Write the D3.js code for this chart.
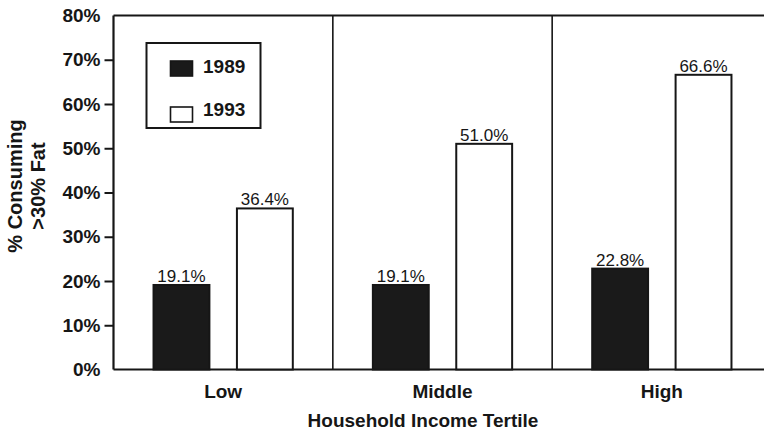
<!DOCTYPE html>
<html>
<head>
<meta charset="utf-8">
<script src="https://cdn.jsdelivr.net/npm/d3@7/dist/d3.min.js"></script>
<style>
  html, body { margin: 0; padding: 0; background: #fff; }
  svg { display: block; }
  text { font-family: "Liberation Sans", Arial, Helvetica, sans-serif; fill: #161616; }
</style>
</head>
<body>
<svg id="chart" width="764" height="431"></svg>
<script>
// Share of people consuming >30% of energy from fat, by household income tertile
const categories = ["Low", "Middle", "High"];
const years = ["1989", "1993"];
const values1989 = [19.1, 19.1, 22.8];
const values1993 = [36.4, 51.0, 66.6];
const yTicks = [0, 10, 20, 30, 40, 50, 60, 70, 80];
const yTickLabels = ["0%", "10%", "20%", "30%", "40%", "50%", "60%", "70%", "80%"];

const ink = "#161616";
const svg = d3.select("#chart");

const plot = { left: 113.5, right: 771.5, top: 15.5, bottom: 369.5 };

const y = d3.scaleLinear().domain([0, 80]).range([plot.bottom, plot.top]);
const x0 = d3.scaleBand().domain(categories).range([plot.left, plot.right]).padding(0);
const x1 = d3.scaleBand().domain(years).range([0, x0.bandwidth()])
  .paddingInner(0.33).paddingOuter(0.48);

const rows = categories.map((c, i) => ({
  category: c,
  bars: [
    { year: "1989", value: values1989[i] },
    { year: "1993", value: values1993[i] }
  ]
}));

// Frame: top and bottom rules plus a vertical divider at each category edge
const frame = svg.append("g").attr("stroke", ink).attr("stroke-width", 2).attr("fill", "none");
frame.append("line").attr("x1", plot.left).attr("x2", plot.right).attr("y1", plot.top).attr("y2", plot.top);
frame.append("line").attr("x1", plot.left).attr("x2", plot.right).attr("y1", plot.bottom).attr("y2", plot.bottom);
categories.forEach(c => {
  frame.append("line")
    .attr("x1", x0(c)).attr("x2", x0(c))
    .attr("y1", plot.top).attr("y2", plot.bottom)
    .attr("stroke-width", x0(c) === plot.left ? 2.2 : 1.6);
});
frame.append("line").attr("x1", plot.right).attr("x2", plot.right).attr("y1", plot.top).attr("y2", plot.bottom);

// Y axis
const yAxis = d3.axisLeft(y)
  .tickValues(yTicks)
  .tickFormat((d, i) => yTickLabels[i])
  .tickSize(9)
  .tickPadding(4);
const yg = svg.append("g").attr("transform", `translate(${plot.left},0)`).call(yAxis);
yg.select(".domain").remove();
yg.selectAll(".tick line")
  .attr("stroke", ink).attr("stroke-width", 2)
  .attr("display", d => (d === 0 || d === 80) ? "none" : null);
yg.selectAll(".tick text")
  .attr("x", -13)
  .attr("font-size", 19).attr("font-weight", "bold")
  .attr("fill", ink)
  .attr("font-family", "'Liberation Sans', Arial, sans-serif");

// Bars
const groups = svg.append("g").selectAll("g.cat")
  .data(rows).join("g")
  .attr("class", "cat")
  .attr("transform", d => `translate(${x0(d.category)},0)`);

groups.selectAll("rect")
  .data(d => d.bars).join("rect")
  .attr("x", d => x1(d.year))
  .attr("width", x1.bandwidth())
  .attr("y", d => y(d.value))
  .attr("height", d => y(0) - y(d.value))
  .attr("fill", d => d.year === "1989" ? "#1a1a1a" : "#fff")
  .attr("stroke", ink)
  .attr("stroke-width", 2);

groups.selectAll("text.val")
  .data(d => d.bars).join("text")
  .attr("class", "val")
  .attr("x", d => x1(d.year) + x1.bandwidth() / 2)
  .attr("y", d => y(d.value) - 3)
  .attr("text-anchor", "middle")
  .attr("font-size", 17)
  .text(d => d.value.toFixed(1) + "%");

// Category labels
svg.append("g").selectAll("text")
  .data(categories).join("text")
  .attr("x", d => x0(d) + x0.bandwidth() / 2)
  .attr("y", 398)
  .attr("text-anchor", "middle")
  .attr("font-size", 19).attr("font-weight", "bold")
  .text(d => d);

// Axis titles
svg.append("text")
  .attr("x", 423).attr("y", 427)
  .attr("text-anchor", "middle")
  .attr("font-size", 19).attr("font-weight", "bold")
  .text("Household Income Tertile");

const yTitle = svg.append("text")
  .attr("transform", "translate(0,186) rotate(-90)")
  .attr("text-anchor", "middle")
  .attr("font-size", 20).attr("font-weight", "bold");
yTitle.append("tspan").attr("x", 0).attr("y", 22).text("% Consuming");
yTitle.append("tspan").attr("x", 0).attr("y", 45).text(">30% Fat");

// Legend
const legend = svg.append("g");
legend.append("rect")
  .attr("x", 146.5).attr("y", 43).attr("width", 114).attr("height", 85)
  .attr("fill", "#fff").attr("stroke", ink).attr("stroke-width", 2);
const legendRows = [
  { year: years[0], fill: "#1a1a1a", y: 61, ty: 73 },
  { year: years[1], fill: "#fff", y: 107, ty: 116 }
];
legendRows.forEach(r => {
  legend.append("rect")
    .attr("x", 170.5).attr("y", r.y).attr("width", 22).attr("height", 15)
    .attr("fill", r.fill).attr("stroke", ink).attr("stroke-width", 1.6);
  legend.append("text")
    .attr("x", 203).attr("y", r.ty)
    .attr("font-size", 19).attr("font-weight", "bold")
    .text(r.year);
});
</script>
</body>
</html>
